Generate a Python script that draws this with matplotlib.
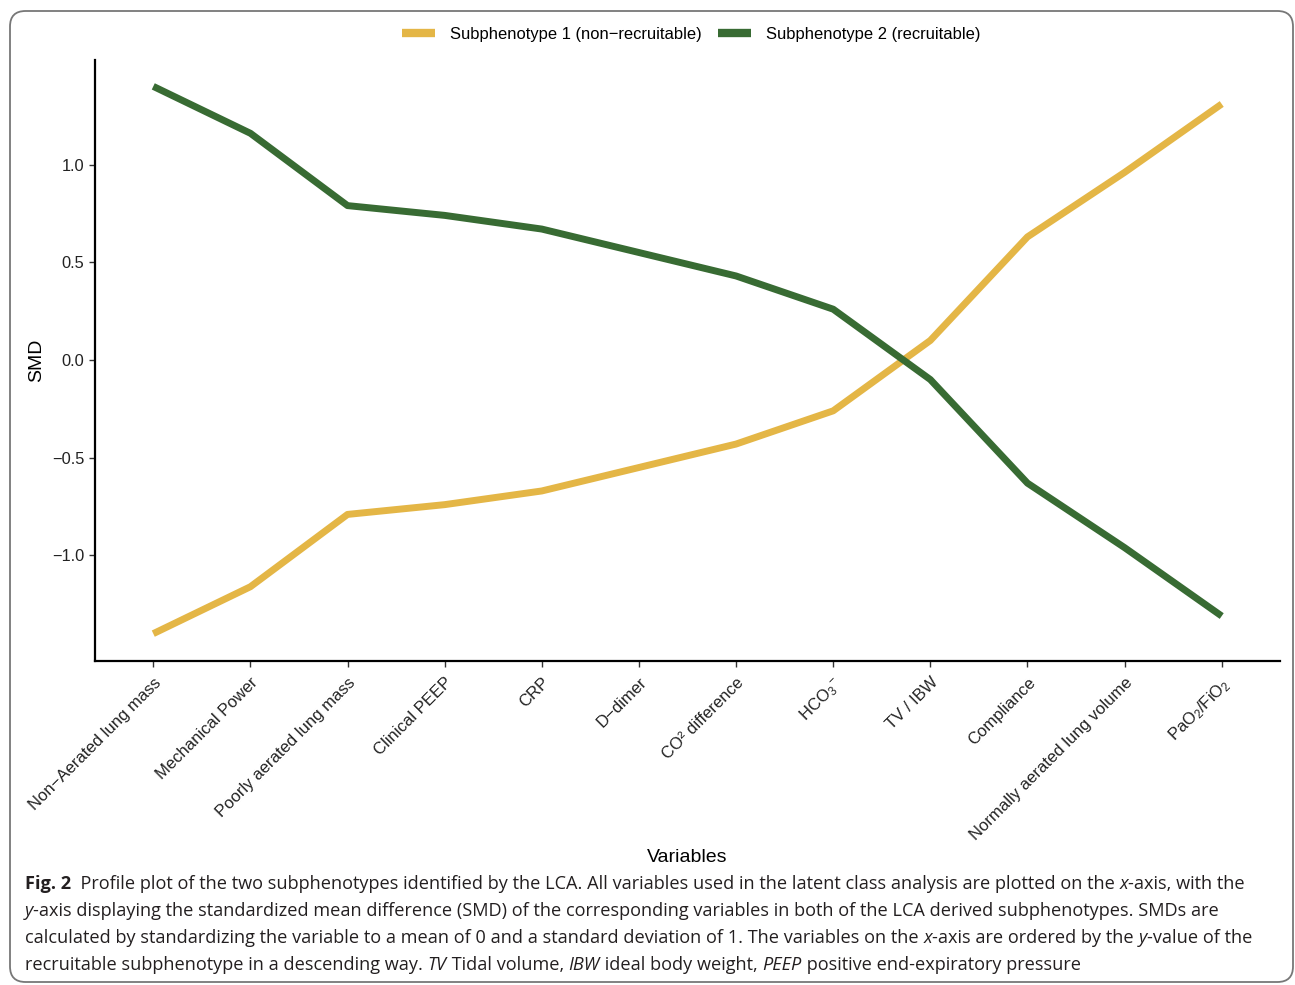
import matplotlib
matplotlib.use("Agg")
import matplotlib.pyplot as plt
from matplotlib.patches import FancyBboxPatch

plt.rcParams['font.family'] = ['Liberation Sans', 'DejaVu Sans']
plt.rcParams['mathtext.fontset'] = 'custom'
plt.rcParams['mathtext.rm'] = 'Liberation Sans'
plt.rcParams['mathtext.it'] = 'Liberation Sans:italic'

# variables ordered by the recruitable subphenotype, descending
variables = ['Non\u2212Aerated lung mass', 'Mechanical Power', 'Poorly aerated lung mass',
             'Clinical PEEP', 'CRP', 'D\u2212dimer', 'CO\u00b2 difference', r'HCO$_{3}$$^{-}$',
             'TV / IBW', 'Compliance', 'Normally aerated lung volume', r'PaO$_{2}$/FiO$_{2}$']
smd_non_recruitable = [-1.40, -1.16, -0.79, -0.74, -0.67, -0.55, -0.43, -0.26,
                       0.10, 0.63, 0.96, 1.31]
smd_recruitable = [1.40, 1.16, 0.79, 0.74, 0.67, 0.55, 0.43, 0.26,
                   -0.10, -0.63, -0.96, -1.31]
series_names = ['Subphenotype 1 (non\u2212recruitable)', 'Subphenotype 2 (recruitable)']
colors = ['#E4B646', '#386B33']

caption_lines = [
    [('Fig. 2', 'bold', 'normal'), ('  Profile plot of the two subphenotypes identified by the LCA. All variables used in the latent class analysis are plotted on the ', 'normal', 'normal'),
     ('x', 'normal', 'italic'), ('-axis, with the', 'normal', 'normal')],
    [('y', 'normal', 'italic'), ('-axis displaying the standardized mean difference (SMD) of the corresponding variables in both of the LCA derived subphenotypes. SMDs are', 'normal', 'normal')],
    [('calculated by standardizing the variable to a mean of 0 and a standard deviation of 1. The variables on the ', 'normal', 'normal'),
     ('x', 'normal', 'italic'), ('-axis are ordered by the ', 'normal', 'normal'), ('y', 'normal', 'italic'),
     ('-value of the', 'normal', 'normal')],
    [('recruitable subphenotype in a descending way. ', 'normal', 'normal'), ('TV', 'normal', 'italic'),
     (' Tidal volume, ', 'normal', 'normal'), ('IBW', 'normal', 'italic'), (' ideal body weight, ', 'normal', 'normal'),
     ('PEEP', 'normal', 'italic'), (' positive end-expiratory pressure', 'normal', 'normal')],
]

fig = plt.figure(figsize=(12.95, 9.85), dpi=100)
W, H = 1295, 985
ax = fig.add_axes([95 / W, 1 - 661 / H, (1280 - 95) / W, (661 - 60) / H])

x = list(range(1, len(variables) + 1))
lines = []
for vals, name, c in zip([smd_non_recruitable, smd_recruitable], series_names, colors):
    ln, = ax.plot(x, vals, color=c, lw=5, solid_capstyle='butt', solid_joinstyle='round', label=name)
    lines.append(ln)

ax.set_xlim(0.4, 12.6)
ax.set_ylim(-1.54, 1.535)
ax.set_yticks([-1.0, -0.5, 0.0, 0.5, 1.0])
ax.set_yticklabels(['\u22121.0', '\u22120.5', '0.0', '0.5', '1.0'])
ax.set_xticks(x)
ax.set_xticklabels(variables, rotation=45, ha='right', va='top', rotation_mode='anchor')
ax.tick_params(axis='both', length=4, width=1, color='#333333', labelcolor='#222222')
ax.tick_params(axis='x', labelsize=12.0, pad=6)
ax.tick_params(axis='y', labelsize=11.8)
for s in ['top', 'right']:
    ax.spines[s].set_visible(False)
for s in ['left', 'bottom']:
    ax.spines[s].set_linewidth(1.6)

ax.set_ylabel('SMD', fontsize=14, labelpad=5)
fig.text(687 / W, 1 - 857 / H, 'Variables', fontsize=14, ha='center', va='center')

leg = fig.legend(handles=lines, loc='center', bbox_to_anchor=(0.534, 1 - 34 / H), ncol=2,
                 frameon=False, fontsize=11.9, handlelength=2.0, handletextpad=0.9,
                 columnspacing=1.0)
for h in leg.legend_handles:
    h.set_linewidth(6)

# rounded outline around the whole figure
frame = FancyBboxPatch((10 / W, 3 / H), (1293 - 10) / W, (974 - 3) / H,
                       boxstyle='round,pad=0,rounding_size=0.012', transform=fig.transFigure,
                       fill=False, edgecolor='#777777', lw=1.3, mutation_aspect=W / H)
fig.patches.append(frame)

# caption under the plot, assembled run by run
fig.canvas.draw()
renderer = fig.canvas.get_renderer()
cap_size = 13.1
y0 = 884
for i, runs in enumerate(caption_lines):
    xpos = 25
    for txt, weight, style in runs:
        t = fig.text(xpos / W, 1 - (y0 + i * 27) / H, txt, fontsize=cap_size, family='Open Sans',
                     fontweight=weight, fontstyle=style, ha='left', va='center', color='#231f20')
        bb = t.get_window_extent(renderer)
        xpos += bb.width

fig.savefig('out.png', dpi=100)
